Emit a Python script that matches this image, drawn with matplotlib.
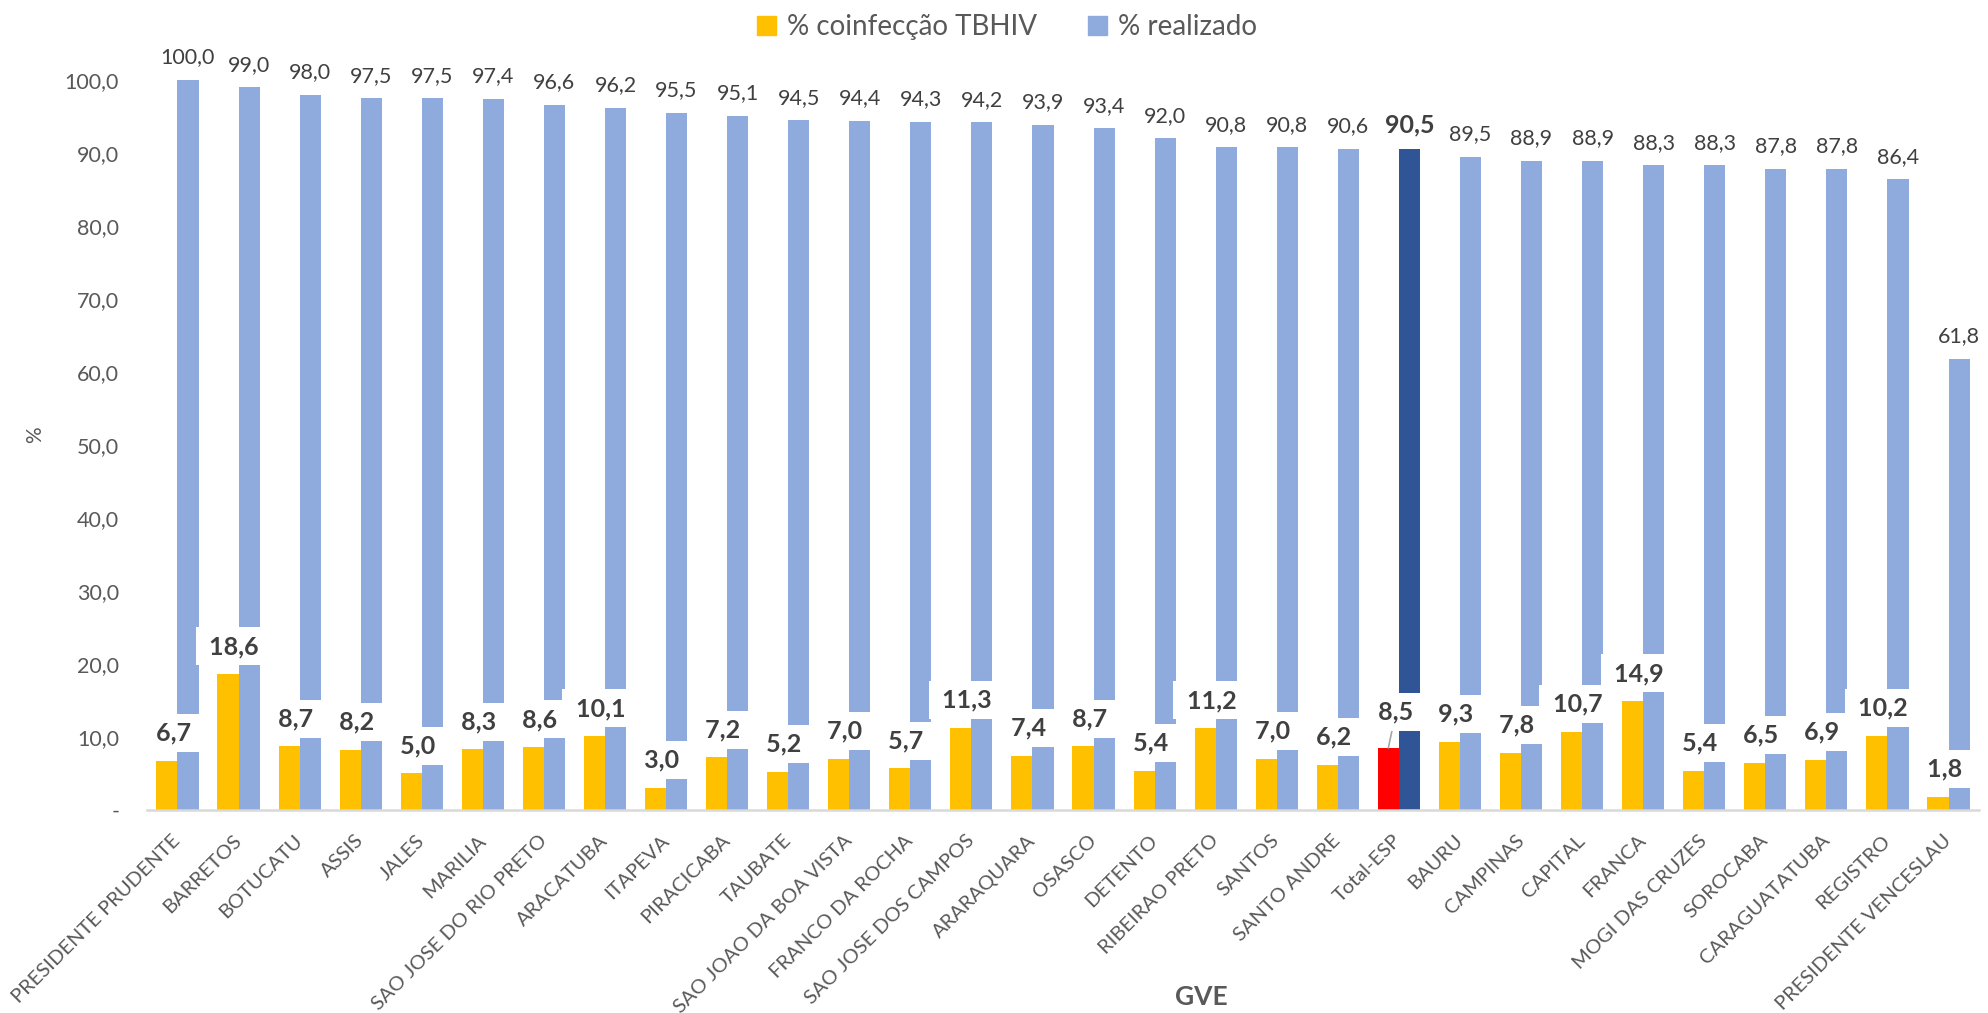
import numpy as np
import matplotlib.pyplot as plt

plt.rcParams['font.family'] = ['Lato', 'DejaVu Sans']

gve = ["PRESIDENTE PRUDENTE", "BARRETOS", "BOTUCATU", "ASSIS", "JALES", "MARILIA",
       "SAO JOSE DO RIO PRETO", "ARACATUBA", "ITAPEVA", "PIRACICABA", "TAUBATE",
       "SAO JOAO DA BOA VISTA", "FRANCO DA ROCHA", "SAO JOSE DOS CAMPOS", "ARARAQUARA",
       "OSASCO", "DETENTO", "RIBEIRAO PRETO", "SANTOS", "SANTO ANDRE", "Total-ESP",
       "BAURU", "CAMPINAS", "CAPITAL", "FRANCA", "MOGI DAS CRUZES", "SOROCABA",
       "CARAGUATATUBA", "REGISTRO", "PRESIDENTE VENCESLAU"]

coinfeccao = [6.7, 18.6, 8.7, 8.2, 5.0, 8.3, 8.6, 10.1, 3.0, 7.2, 5.2, 7.0, 5.7, 11.3, 7.4,
              8.7, 5.4, 11.2, 7.0, 6.2, 8.5, 9.3, 7.8, 10.7, 14.9, 5.4, 6.5, 6.9, 10.2, 1.8]

realizado = [100.0, 99.0, 98.0, 97.5, 97.5, 97.4, 96.6, 96.2, 95.5, 95.1, 94.5, 94.4, 94.3,
             94.2, 93.9, 93.4, 92.0, 90.8, 90.8, 90.6, 90.5, 89.5, 88.9, 88.9, 88.3, 88.3,
             87.8, 87.8, 86.4, 61.8]

yticks = [0, 10, 20, 30, 40, 50, 60, 70, 80, 90, 100]

total_idx = gve.index("Total-ESP")

YELLOW = '#FFC000'
BLUE = '#8FAADC'
DARK_BLUE = '#2F5597'
RED = '#FF0000'
TXT = '#404040'
TICK = '#595959'


def fmt(v):
    return ("%.1f" % v).replace('.', ',')


fig = plt.figure(figsize=(19.88, 10.13), dpi=100)
ax = fig.add_axes([0.0739, 0.2004, 0.9216, 0.7206])

x = np.arange(len(gve))
w = 0.345

col_y = [RED if i == total_idx else YELLOW for i in x]
col_b = [DARK_BLUE if i == total_idx else BLUE for i in x]

ax.bar(x - w / 2, coinfeccao, w, color=col_y, zorder=1)
ax.bar(x + w / 2, realizado, w, color=col_b, zorder=1)

# labels on the blue bars
for i, v in enumerate(realizado):
    bold = i == total_idx
    ax.annotate(fmt(v), (i + w / 2, v), xytext=(0, 9), textcoords='offset points',
                ha='center', va='bottom', color=TXT,
                fontsize=18 if bold else 15.5, fontweight='bold' if bold else 'normal',
                annotation_clip=False)

# labels on the yellow bars, white box over the blue bar
# (spaces make the box wider, like the excel callouts)
box = dict(boxstyle='square,pad=0.3', fc='white', ec='none')
for i, v in enumerate(coinfeccao):
    lbl = ' ' + fmt(v) + ' '
    if i == total_idx:
        # this one sits higher, with a leader line to the bar
        ax.annotate(lbl, (i - w / 2, v), xytext=(i - 0.05, v + 4.9), textcoords='data',
                    ha='center', va='center', color=TXT, fontsize=18, fontweight='bold',
                    bbox=box,
                    arrowprops=dict(arrowstyle='-', color='#A6A6A6', lw=1.2,
                                    shrinkA=0, shrinkB=0),
                    zorder=4)
    else:
        ax.annotate(lbl, (i - 0.07, v), xytext=(0, 20), textcoords='offset points',
                    ha='center', va='center', color=TXT, fontsize=18, fontweight='bold',
                    bbox=box, zorder=4)

ax.set_xlim(-0.5, len(gve) - 0.5)
ax.set_ylim(0, 100)
ax.set_yticks(yticks)
ax.set_yticklabels(['-' if t == 0 else fmt(t) for t in yticks])
ax.tick_params(axis='y', length=0, pad=20, labelsize=15.5, labelcolor=TICK)
ax.set_xticks(x)
ax.set_xticklabels(gve, rotation=45, ha='right', va='center', rotation_mode='anchor')
ax.tick_params(axis='x', length=0, pad=20, labelsize=14.5, labelcolor=TICK)

for s in ['top', 'right', 'left']:
    ax.spines[s].set_visible(False)
ax.spines['bottom'].set_color('#D9D9D9')
ax.spines['bottom'].set_linewidth(1.8)

fig.text(1201 / 1988, 1 - 997 / 1013, 'GVE', ha='center', va='center',
         fontsize=19, fontweight='bold', color=TICK)
fig.text(35 / 1988, 1 - 435 / 1013, '%', ha='center', va='center', rotation=90,
         fontsize=15, color=TICK)

leg = fig.legend([plt.Rectangle((0, 0), 1, 1, color=YELLOW), plt.Rectangle((0, 0), 1, 1, color=BLUE)],
                 ['% coinfecção TBHIV', '% realizado'], loc='center',
                 bbox_to_anchor=(1007 / 1988, 1 - 27 / 1013), ncol=2,
                 frameon=False, fontsize=20, handlelength=0.7, handleheight=0.7,
                 handletextpad=0.4, columnspacing=1.8)
for t in leg.get_texts():
    t.set_color(TICK)

fig.savefig('out.png', dpi=100)
